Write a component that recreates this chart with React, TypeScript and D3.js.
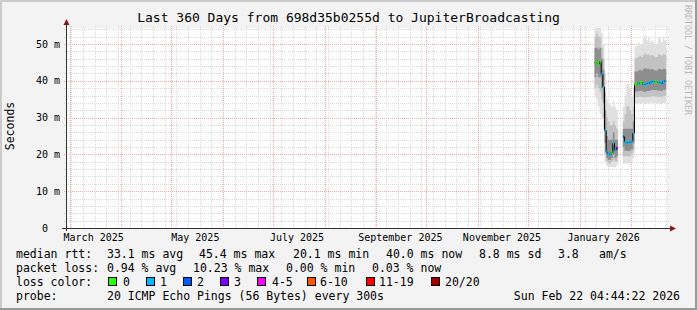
import React from "react";
import * as d3 from "d3";

const W = 697;
const H = 310;

const title = "Last 360 Days from 698d35b0255d to JupiterBroadcasting";
const startTime = new Date(2025, 1, 27, 4, 44, 22);
const endTime = new Date(2026, 1, 22, 4, 44, 22);
const yMax = 54.35;

const monthLabels = ["March 2025", "May 2025", "July 2025", "September 2025", "November 2025", "January 2026"];
const monthLabelAt = ["2025-03-15 12", "2025-05-15 12", "2025-07-15 12", "2025-09-15 12", "2025-11-15 12", "2026-01-15 12"];
const yTicks = [0, 10, 20, 30, 40, 50];

const dates = [
  "2026-01-10", "2026-01-11", "2026-01-12", "2026-01-13", "2026-01-14", "2026-01-15", "2026-01-16",
  "2026-01-17", "2026-01-18", "2026-01-19", "2026-01-20", "2026-01-21", "2026-01-22", "2026-01-23",
  "2026-01-24", "2026-01-25", "2026-01-26",
  "2026-01-27", "2026-01-28", "2026-01-29", "2026-01-30", "2026-01-31", "2026-02-01", "2026-02-02",
  "2026-02-03", "2026-02-04", "2026-02-05", "2026-02-06", "2026-02-07", "2026-02-08", "2026-02-09",
  "2026-02-10", "2026-02-11", "2026-02-12", "2026-02-13", "2026-02-14", "2026-02-15", "2026-02-16",
  "2026-02-17", "2026-02-18", "2026-02-19", "2026-02-20", "2026-02-21",
];

// median rtt (ms)
const median: (number | null)[] = [
  45.0, 44.6, 44.6, 45.2, 41.8, 38.3, 26.5,
  20.6, 20.1, 20.0, 20.5, 23.0, 21.2, 21.7,
  null, null, null,
  24.8, 23.4, 23.2, 23.2, 23.3, 23.6, 25.8,
  39.0, 39.1, 39.3, 39.5, 39.5, 39.0, 39.0,
  39.3, 39.3, 39.5, 39.8, 39.8, 39.7, 39.7,
  39.5, 39.5, 39.3, 39.8, 40.0,
];

// loss class index into lossColors
const lossClass: (number | null)[] = [
  0, 0, 0, 0, 1, 1, 1,
  1, 1, 1, 0, 1, 1, 3,
  null, null, null,
  2, 1, 1, 1, 1, 1, 1,
  0, 0, 1, 0, 0, 1, 1,
  1, 1, 1, 1, 1, 0, 0,
  1, 1, 1, 1, 1,
];

// smoke distribution (ms)
const smokeMax: (number | null)[] = [
  55, 55, 55, 54.5, 53, 50, 42,
  35, 34, 33.5, 33, 34.5, 33, 32,
  null, null, null,
  33, 36, 39, 39.5, 38, 36, 38,
  49.3, 49.5, 50.5, 50.0, 49.8, 51.5, 52.5,
  51.0, 52.0, 50.5, 51.0, 50.5, 49.8, 50.0,
  52.0, 51.5, 50.5, 52.0, 51.0,
];
const smokeP90: (number | null)[] = [
  52, 53, 52, 52, 49, 46, 37,
  30, 29, 28, 28, 29, 28, 27,
  null, null, null,
  29, 31, 33, 33, 32, 31, 33,
  46.0, 46.2, 46.5, 46.8, 46.5, 47.0, 47.5,
  47.0, 47.2, 46.8, 47.0, 46.8, 46.5, 46.5,
  47.2, 47.0, 46.8, 47.2, 47.0,
];
const smokeP75: (number | null)[] = [
  49, 49, 48.5, 49, 46, 43, 32,
  25, 24, 24, 24, 26, 24, 24,
  null, null, null,
  27, 27, 27, 27, 27, 27, 29,
  42.5, 42.5, 42.8, 43.0, 42.8, 43.2, 43.5,
  43.2, 43.3, 43.0, 43.2, 43.0, 42.8, 42.8,
  43.3, 43.2, 43.0, 43.3, 43.2,
];
const smokeP25: (number | null)[] = [
  41, 42, 41, 41, 38, 34, 23,
  19, 18.5, 18.5, 19, 20, 19, 19.5,
  null, null, null,
  22, 21, 21, 21, 21, 21.5, 23,
  37.0, 37.0, 37.2, 37.3, 37.2, 37.0, 37.0,
  37.2, 37.2, 37.3, 37.5, 37.5, 37.4, 37.4,
  37.3, 37.3, 37.2, 37.5, 37.6,
];
const smokeP10: (number | null)[] = [
  38, 39, 38, 37, 35, 30, 20,
  18, 17.5, 17.5, 18, 18.5, 18, 18,
  null, null, null,
  19.5, 19.5, 19.5, 19.5, 19.5, 20, 21,
  35.5, 35.5, 35.6, 35.7, 35.6, 35.5, 35.5,
  35.6, 35.6, 35.7, 35.8, 35.8, 35.7, 35.7,
  35.6, 35.6, 35.5, 35.8, 35.9,
];
const smokeMin: (number | null)[] = [
  35.5, 35, 33, 31, 30, 27, 18,
  17, 16.5, 16.5, 16.5, 16.5, 16.5, 17,
  null, null, null,
  17.5, 17.5, 17.5, 17.5, 17.5, 18, 19,
  33.8, 33.8, 33.9, 34.0, 33.9, 33.8, 33.7,
  33.8, 33.9, 34.0, 34.1, 34.0, 33.9, 33.9,
  33.8, 33.8, 33.7, 34.0, 34.1,
];

const lossColors = ["#26ff00", "#00b8ff", "#0059ff", "#7e00ff", "#ff00ff", "#ff5500", "#ff0000", "#a00000"];
const lossLabels = ["0", "1", "2", "3", "4-5", "6-10", "11-19", "20/20"];

const FONT = "'DejaVu Sans Mono', monospace";

type Pt = { t: Date; v: (number | null)[] | null };

export default function App() {
  const parseDay = d3.timeParse("%Y-%m-%d");
  const parseHour = d3.timeParse("%Y-%m-%d %H");
  const x = d3.scaleTime().domain([startTime, endTime]).range([66.5, 666.5]);
  const y = d3.scaleLinear().domain([0, yMax]).range([228, 28]);

  const series = [smokeMin, smokeP10, smokeP25, median, smokeP75, smokeP90, smokeMax];
  const pts: Pt[] = [];
  dates.forEach((ds, i) => {
    const t = parseDay(ds)!;
    if (median[i] == null) {
      pts.push({ t, v: null });
    } else {
      const v = series.map((s) => s[i]);
      pts.push({ t, v });
      if (i === dates.length - 1 || median[i + 1] == null) {
        pts.push({ t: d3.timeDay.offset(t, 1), v });
      }
    }
  });

  const cy = (val: number) => y(Math.min(val, yMax + 1));
  const band = (lo: number, hi: number) =>
    d3
      .area<Pt>()
      .defined((p) => p.v != null)
      .x((p) => x(p.t))
      .y0((p) => cy(p.v![lo] as number))
      .y1((p) => cy(p.v![hi] as number))
      .curve(d3.curveStepAfter)(pts) || "";

  const medLine =
    d3
      .line<Pt>()
      .defined((p) => p.v != null)
      .x((p) => x(p.t))
      .y((p) => y(p.v![3] as number))
      .curve(d3.curveStepAfter)(pts) || "";

  const months = d3.timeMonth.range(startTime, endTime);
  const sundays = d3.timeSunday.range(startTime, d3.timeDay.offset(endTime, 1));
  const minorY = d3.range(2, yMax, 2).filter((v) => v % 10 !== 0);
  const majorY = yTicks.filter((v) => v > 0);

  const legendY = [258, 272, 286, 300];
  const boxX = [108, 146, 183, 220, 257, 307, 366, 431];
  const boxLabelX = [123, 160, 197, 234, 272, 320, 379, 445];

  return (
    <>
      <style>{"body{margin:0}"}</style>
      <svg width={W} height={H} style={{ display: "block" }} fontFamily={FONT}>
        <defs>
          <clipPath id="canvasClip">
            <rect x={67} y={28} width={600} height={200} />
          </clipPath>
        </defs>
        <rect x={0} y={0} width={W} height={H} fill="#f3f3f3" />
        <rect x={0} y={0} width={W} height={2} fill="#cbcbcb" />
        <rect x={0} y={0} width={2} height={H} fill="#cbcbcb" />
        <rect x={0} y={H - 2} width={W} height={2} fill="#999999" />
        <rect x={W - 2} y={0} width={2} height={H} fill="#999999" />
        <rect x={67} y={28} width={600} height={200} fill="#ffffff" />

        {/* minor grid */}
        <g stroke="#dadada" strokeWidth={1} strokeDasharray="1,1" shapeRendering="crispEdges">
          {sundays.map((d, i) => (
            <line key={"sv" + i} x1={Math.round(x(d)) + 0.5} x2={Math.round(x(d)) + 0.5} y1={26} y2={230} />
          ))}
          {minorY.map((v, i) => (
            <line key={"sh" + i} x1={64} x2={669} y1={Math.round(y(v)) + 0.5} y2={Math.round(y(v)) + 0.5} />
          ))}
        </g>
        {/* major grid */}
        <g stroke="#f2a8a8" strokeWidth={1} strokeDasharray="1,1" shapeRendering="crispEdges">
          {months.map((d, i) => (
            <line key={"mv" + i} x1={Math.round(x(d)) + 0.5} x2={Math.round(x(d)) + 0.5} y1={26} y2={230} />
          ))}
          {majorY.map((v, i) => (
            <line key={"mh" + i} x1={64} x2={669} y1={Math.round(y(v)) + 0.5} y2={Math.round(y(v)) + 0.5} />
          ))}
        </g>

        {/* smoke */}
        <g clipPath="url(#canvasClip)">
          <path d={band(0, 6)} fill="#e0e0e0" />
          <path d={band(1, 5)} fill="#c2c2c2" />
          <path d={band(2, 4)} fill="#8e8e8e" />
          <path d={medLine} fill="none" stroke="#000000" strokeWidth={1} />
          {dates.map((ds, i) => {
            const m = median[i];
            const lc = lossClass[i];
            if (m == null || lc == null) return null;
            const t = parseDay(ds)!;
            const x0 = x(t);
            const w = x(d3.timeDay.offset(t, 1)) - x0;
            return <rect key={"lc" + i} x={x0 + 0.1} y={y(m) - 1.5} width={w * 0.75} height={3} fill={lossColors[lc]} />;
          })}
        </g>

        {/* axes */}
        <line x1={66.5} x2={66.5} y1={231} y2={24} stroke="#303030" strokeWidth={1} />
        <line x1={62} x2={670} y1={228.5} y2={228.5} stroke="#303030" strokeWidth={1} />
        <path d="M63.5,25 L69.5,25 L66.5,19 Z" fill="#8a1515" />
        <path d="M670,225.5 L670,231.5 L676,228.5 Z" fill="#8a1515" />

        {/* y tick labels */}
        {yTicks.map((v) => (
          <text key={"yt" + v} x={60} y={y(v) + 3.5} fontSize={10} textAnchor="end" fill="#000" xmlSpace="preserve" style={{ whiteSpace: "pre" }}>
            {v === 0 ? "0  " : `${v} m`}
          </text>
        ))}
        {/* x labels */}
        {monthLabels.map((lab, i) => (
          <text key={"xl" + i} x={x(parseHour(monthLabelAt[i])!)} y={241} fontSize={10} textAnchor="middle" fill="#000">
            {lab}
          </text>
        ))}

        {/* title */}
        <text x={W / 2} y={22} fontSize={13} textAnchor="middle" fill="#000">
          {title}
        </text>
        <text transform="translate(14,126) rotate(-90)" fontSize={11.5} textAnchor="middle" fill="#000">
          Seconds
        </text>
        <text transform="translate(685,5) rotate(90)" fontSize={8.3} fill="#b8b8b8">
          RRDTOOL / TOBI OETIKER
        </text>

        {/* legend */}
        <g fontSize={11.5} fill="#000" style={{ whiteSpace: "pre" }}>
          <text x={16} y={legendY[0]}>median rtt:</text>
          <text x={107} y={legendY[0]}>33.1 ms avg</text>
          <text x={199} y={legendY[0]}>45.4 ms max</text>
          <text x={293} y={legendY[0]}>20.1 ms min</text>
          <text x={386} y={legendY[0]}>40.0 ms now</text>
          <text x={479} y={legendY[0]}>8.8 ms sd</text>
          <text x={558} y={legendY[0]}>3.8</text>
          <text x={599} y={legendY[0]}>am/s</text>

          <text x={16} y={legendY[1]}>packet loss:</text>
          <text x={107} y={legendY[1]}>0.94 % avg</text>
          <text x={193} y={legendY[1]}>10.23 % max</text>
          <text x={286} y={legendY[1]}>0.00 % min</text>
          <text x={372} y={legendY[1]}>0.03 % now</text>

          <text x={16} y={legendY[2]}>loss color:</text>
          {lossLabels.map((lab, i) => (
            <g key={"lg" + i}>
              <rect x={boxX[i] + 0.5} y={277.5} width={8} height={8} fill={lossColors[i]} stroke="#000" strokeWidth={1} />
              <text x={boxLabelX[i]} y={legendY[2]}>{lab}</text>
            </g>
          ))}

          <text x={16} y={legendY[3]}>probe:</text>
          <text x={107} y={legendY[3]}>20 ICMP Echo Pings (56 Bytes) every 300s</text>
          <text x={680} y={legendY[3]} textAnchor="end">Sun Feb 22 04:44:22 2026</text>
        </g>
      </svg>
    </>
  );
}
